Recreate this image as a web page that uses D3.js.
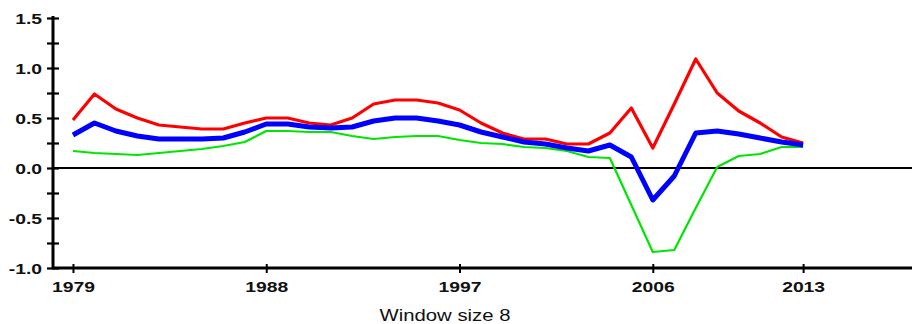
<!DOCTYPE html>
<html>
<head>
<meta charset="utf-8">
<script src="https://cdn.jsdelivr.net/npm/d3@7"></script>
<style>
    body { margin: 0; background: #fff; }
    svg { display: block; }
    .tick-label { font-family: "Liberation Sans", Arial, sans-serif; font-weight: bold; font-size: 14px; fill: #111; }
    .caption { font-family: "Liberation Sans", Arial, sans-serif; font-size: 16px; fill: #111; }
</style>
</head>
<body>
<svg id="chart" width="912" height="324"></svg>
<script>

// years of the moving window
const years = d3.range(1979, 2014)

const redSeries = [
    0.48, 0.74, 0.59, 0.50, 0.43, 0.41, 0.39, 0.39, 0.45, 0.50,
    0.50, 0.45, 0.43, 0.50, 0.64, 0.68, 0.68, 0.65, 0.58,
    0.45, 0.35, 0.29, 0.29, 0.24, 0.24, 0.35, 0.60,
    0.20, 0.64, 1.09, 0.75, 0.57, 0.45, 0.31, 0.25
]

const blueSeries = [
    0.33, 0.45, 0.37, 0.32, 0.29, 0.29, 0.29, 0.30, 0.36, 0.44,
    0.44, 0.41, 0.40, 0.41, 0.47, 0.50, 0.50, 0.47, 0.43,
    0.36, 0.31, 0.26, 0.24, 0.20, 0.17, 0.23, 0.11,
    -0.32, -0.08, 0.35, 0.37, 0.34, 0.30, 0.26, 0.23
]

const greenSeries = [
    0.17, 0.15, 0.14, 0.13, 0.15, 0.17, 0.19, 0.22, 0.26, 0.37,
    0.37, 0.36, 0.36, 0.32, 0.29, 0.31, 0.32, 0.32, 0.28,
    0.25, 0.24, 0.21, 0.20, 0.17, 0.11, 0.10, -0.37,
    -0.84, -0.82, -0.40, 0.01, 0.12, 0.14, 0.21, 0.21
]

const xTicks = [1979, 1988, 1997, 2006, 2013]
const yMajorTicks = [-1.0, -0.5, 0.0, 0.5, 1.0, 1.5]
const yMinorTicks = [-0.75, -0.25, 0.25, 0.75, 1.25]
const caption = "Window size 8"

const width = 912, height = 324
const margin = {top: 18, right: 0, bottom: 56, left: 53}
const stretch = 1.38   // labels in the source are drawn wide

const svg = d3.select("#chart")

const x = d3.scaleLinear()
    .domain([1978.07, 2018.07])
    .range([margin.left, width - margin.right])

const y = d3.scaleLinear()
    .domain([-1, 1.5])
    .range([height - margin.bottom, margin.top])

// zero reference line
svg.append("line")
   .attr("x1", x.range()[0])
   .attr("x2", x.range()[1])
   .attr("y1", y(0))
   .attr("y2", y(0))
   .attr("stroke", "#000")
   .attr("stroke-width", 2.2)

// the three series, green under red under blue
let line = d3.line()
    .x((d, i) => x(years[i]))
    .y(d => y(d))

let series = [
    {values: greenSeries, color: "#00e600", width: 2.2},
    {values: redSeries, color: "#ff0000", width: 3.2},
    {values: blueSeries, color: "#0000ff", width: 5}
]

svg.selectAll(".series")
   .data(series)
   .enter()
   .append("path")
   .attr("class", "series")
   .attr("d", s => line(s.values))
   .attr("fill", "none")
   .attr("stroke", s => s.color)
   .attr("stroke-width", s => s.width)
   .attr("stroke-linejoin", "round")

// y axis: major ticks with labels, minor ticks without
let yAxis = svg.append("g")
    .attr("transform", "translate(" + margin.left + ",0)")
    .call(d3.axisLeft(y)
        .tickValues(yMajorTicks.concat(yMinorTicks))
        .tickSize(6)
        .tickFormat(d => yMajorTicks.includes(d) ? d3.format(".1f")(d).replace("−", "-") : ""))

yAxis.select(".domain").remove()
yAxis.selectAll(".tick line")
     .attr("x1", -6)
     .attr("x2", 6)
     .attr("stroke", "#000")
     .attr("stroke-width", 2.2)
yAxis.selectAll(".tick text")
     .attr("class", "tick-label")
     .attr("x", -11 / stretch)
     .attr("dy", "0.36em")
     .attr("transform", "scale(" + stretch + ",1)")

yAxis.append("line")
     .attr("y1", y.range()[0])
     .attr("y2", y.range()[1] - 2)
     .attr("stroke", "#000")
     .attr("stroke-width", 3)

// x axis
let xAxis = svg.append("g")
    .attr("transform", "translate(0," + y.range()[0] + ")")
    .call(d3.axisBottom(x)
        .tickValues(xTicks)
        .tickSize(4)
        .tickFormat(d3.format("d")))

xAxis.select(".domain").remove()
xAxis.selectAll(".tick line")
     .attr("y1", -4)
     .attr("y2", 5)
     .attr("stroke", "#000")
     .attr("stroke-width", 2)
xAxis.selectAll(".tick text")
     .attr("class", "tick-label")
     .attr("y", 24)
     .attr("dy", 0)
     .attr("transform", "scale(" + stretch + ",1)")

xAxis.append("line")
     .attr("x1", x.range()[0] - 1)
     .attr("x2", x.range()[1])
     .attr("stroke", "#000")
     .attr("stroke-width", 3)

// caption under the axis
svg.append("text")
   .attr("class", "caption")
   .attr("text-anchor", "middle")
   .attr("transform", "translate(445,321) scale(1.27,1)")
   .text(caption)

</script>
</body>
</html>
